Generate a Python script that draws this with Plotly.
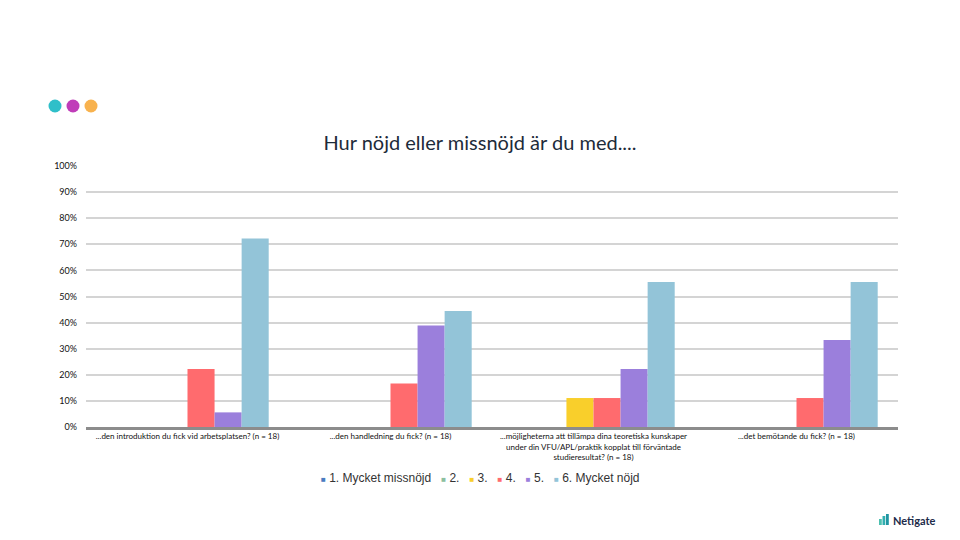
import plotly.graph_objects as go

# questions on the x axis
categories = [
    "...den introduktion du fick vid arbetsplatsen? (n = 18)",
    "...den handledning du fick? (n = 18)",
    "...möjligheterna att tillämpa dina teoretiska kunskaper<br>under din VFU/APL/praktik kopplat till förväntade<br>studieresultat? (n = 18)",
    "...det bemötande du fick? (n = 18)",
]

series_names = ["1. Mycket missnöjd", "2.", "3.", "4.", "5.", "6. Mycket nöjd"]
series_colors = ["#4a7cc0", "#8dbf9f", "#f9cf2b", "#ff6b6e", "#9b7fdc", "#93c4d8"]

# share of answers per series (fraction)
s1 = [0.0, 0.0, 0.0, 0.0]
s2 = [0.0, 0.0, 0.0, 0.0]
s3 = [0.0, 0.0, 0.111, 0.0]
s4 = [0.222, 0.167, 0.111, 0.111]
s5 = [0.056, 0.389, 0.222, 0.333]
s6 = [0.722, 0.444, 0.556, 0.556]
series_values = [s1, s2, s3, s4, s5, s6]

y_ticks = [i / 10 for i in range(11)]
y_tick_labels = [f"{i * 10}%" for i in range(11)]

fig = go.Figure()
for name, color, vals in zip(series_names, series_colors, series_values):
    fig.add_trace(go.Bar(x=categories, y=vals, name=name, marker_color=color,
                         marker_line_width=0, showlegend=False))

# page draws the figure 8px in from the top left, so work in page pixels and shift
OFF = 8
W, H = 960, 540
# plot area in page pixels: x 86..898, y 166..427
L, R, T, B = 86 - OFF, W - 898 + OFF, 166 - OFF, H - 427 + OFF
pw, ph = W - L - R, H - T - B


def px(x):
    return (x - OFF - L) / pw


def py(y):
    return (H - B - (y - OFF)) / ph


shapes = []
# decorative dots top left
for cx, col in [(55, "#2fbfc9"), (73, "#c03db9"), (91, "#f8b24e")]:
    shapes.append(dict(type="circle", xref="paper", yref="paper",
                       x0=px(cx - 6.5), x1=px(cx + 6.5), y0=py(106 + 6.5), y1=py(106 - 6.5),
                       fillcolor=col, line_width=0))
# netigate logo bars
for x0, y0, col in [(879, 519, "#4cc0b0"), (882.5, 516, "#33aeb0"), (886, 514, "#1f95a2")]:
    shapes.append(dict(type="rect", xref="paper", yref="paper",
                       x0=px(x0), x1=px(x0 + 2.8), y0=py(525), y1=py(y0),
                       fillcolor=col, line_width=0))

# hand drawn legend line, compact like the original
legend_text = "&nbsp;&nbsp;&nbsp;".join(
    f"<span style='color:{c};font-size:8px'>■</span>&nbsp;{n}"
    for n, c in zip(series_names, series_colors)
)

fig.update_layout(
    width=W, height=H,
    margin=dict(l=L, r=R, t=T, b=B),
    paper_bgcolor="white", plot_bgcolor="white",
    font=dict(family="Lato", color="#222"),
    title=dict(text="Hur nöjd eller missnöjd är du med....", x=px(480), xanchor="center",
               xref="paper", y=1 - (143 - OFF) / H, yanchor="middle",
               font=dict(size=20, color="#1d2b3a", family="Lato")),
    barmode="group", bargap=0.2, bargroupgap=0,
    shapes=shapes,
    annotations=[
        dict(text="<b>Netigate</b>", xref="paper", yref="paper",
             x=px(891), y=py(520), xanchor="left", yanchor="middle",
             showarrow=False, font=dict(size=11, color="#1d2b4a", family="Lato")),
        dict(text=legend_text, xref="paper", yref="paper",
             x=px(480), y=py(478), xanchor="center", yanchor="middle",
             showarrow=False, font=dict(size=12, color="#333", family="Liberation Sans")),
    ],
)
fig.update_xaxes(tickfont=dict(size=8, color="#111"), showgrid=False,
                 showline=True, linecolor="#8c8c8c", linewidth=2.5, ticks="")
fig.update_yaxes(range=[0, 1.0], tickvals=y_ticks, ticktext=y_tick_labels,
                 tickfont=dict(size=9, color="#111"), showgrid=True,
                 gridcolor="#d4d4d4", gridwidth=1.5, zeroline=False, ticklabelstandoff=8)

fig.write_html("out.html")
